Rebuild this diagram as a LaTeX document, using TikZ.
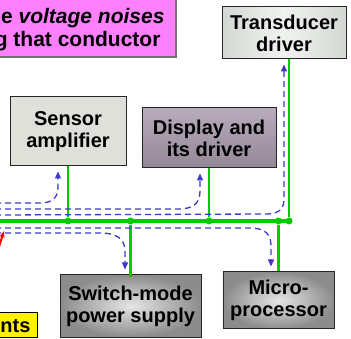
\documentclass[tikz,border=0pt]{standalone}
\usepackage{fontspec}
\setmainfont{Liberation Sans}
\usetikzlibrary{arrows.meta}

\definecolor{busgreen}{RGB}{0,204,0}
\definecolor{noiseblue}{RGB}{58,58,204}
\definecolor{notepink}{RGB}{255,128,255}
\definecolor{sensorfill}{RGB}{224,224,218}
\definecolor{displaytop}{RGB}{184,172,188}
\definecolor{displaybot}{RGB}{148,136,152}
\definecolor{transmid}{RGB}{240,242,240}
\definecolor{transside}{RGB}{212,216,212}

\begin{document}
\begin{tikzpicture}[x=1pt, y=-1pt,
  block/.style={draw=black!85, line width=1pt, align=center, inner sep=0pt,
    font=\bfseries\fontsize{20}{22}\selectfont},
  metal/.style={block, shading=radial, inner color=black!10, outer color=black!45},
  bus/.style={busgreen, line width=4pt},
  tap/.style={busgreen, line width=2.2pt},
  joint/.style={circle, fill=busgreen, inner sep=0pt, minimum size=7pt},
  noise/.style={noiseblue, line width=1.3pt, dash pattern=on 6pt off 4pt,
    shorten >=5pt, -{Triangle[length=7pt,width=6pt]}}]

\useasboundingbox (0,0) rectangle (351,339);
\clip (0,0) rectangle (351,339);

% Note boxes (cut by the frame)
\node[draw=black!55, line width=1.5pt, fill=notepink, minimum width=190pt, minimum height=70pt] (note) at (81,22) {};
\node[anchor=base east, font=\bfseries\fontsize{21}{21}\selectfont] (noteB) at (168,24) {e \textit{voltage noises}};
\node[anchor=base east, font=\bfseries\fontsize{21}{21}\selectfont] (noteC) at (164,47) {g that conductor};
\node[draw=black, line width=1pt, fill=yellow, minimum width=50pt, minimum height=25pt] (part) at (12,325) {};
\node[anchor=base east, font=\bfseries\fontsize{20}{20}\selectfont] (partText) at (34,332) {ents};

% Blocks
\node[block, fill=sensorfill, minimum width=116pt, minimum height=69pt] (sensor) at (68,131.5) {Sensor\\amplifier};
\node[block, top color=displaytop, bottom color=displaybot, minimum width=134pt, minimum height=60pt] (display) at (209,138) {Display and\\its driver};
\node[block, left color=transside, right color=transside, middle color=transmid, minimum width=124pt, minimum height=52pt] (trans) at (284,33) {Transducer\\driver};
\node[metal, minimum width=141pt, minimum height=62pt] (switch) at (130.5,306) {Switch-mode\\power supply};
\node[metal, minimum width=111pt, minimum height=57pt] (micro) at (278.5,300.5) {Micro-\\processor};

% Bus
\coordinate (busL) at (-5,221);
\coordinate (busR) at (289,221);
\draw[bus] (busL) -- (busR);
\node[joint] (jSensor) at (sensor.south |- busL) {};
\node[joint] (jDisplay) at (display.south |- busL) {};
\node[joint] (jSwitch) at (switch.north |- busL) {};
\node[joint] (jMicro) at (micro.north |- busL) {};
\node[joint] (jTrans) at (busR) {};
\draw[tap] (sensor.south) -- (jSensor);
\draw[tap] (display.south) -- (jDisplay);
\draw[tap] (jSwitch) -- ([yshift=-3pt]switch.north);
\draw[tap] (jMicro) -- (micro.north);
\draw[tap] (jTrans) -- (jTrans |- trans.south);

% Noise paths
\coordinate (inA) at (-5,203);
\coordinate (inB) at (-5,209);
\coordinate (inC) at (-5,215);
\coordinate (inD) at (-5,228);
\coordinate (inE) at (-5,233);
\coordinate (tipSensor) at ([xshift=-10pt]sensor.south);
\coordinate (tipDisplay) at ([xshift=-9pt]display.south);
\coordinate (tipTrans) at (trans.south);
\coordinate (tipMicro) at ([xshift=-7.5pt]micro.north);
\coordinate (tipSwitch) at ([xshift=-5.5pt]switch.north);
\draw[noise] (inA) -- (40,203) .. controls (53,203) and (58,197) .. (58,187) -- (tipSensor);
\draw[noise] (inB) -- (178,209) .. controls (194,209) and (200,203) .. (200,191) -- (tipDisplay);
\draw[noise] (inC) -- (268,214) .. controls (281,213) and (284,208) .. (284,198) -- (tipTrans);
\draw[noise] (inD) -- (250,228) .. controls (265,228) and (271,234) .. (271,246) -- (tipMicro);
\draw[noise] (inE) -- (100,233) .. controls (118,233) and (125,240) .. (125,251) -- (tipSwitch);

% Red arrow (cut by the frame)
\coordinate (redTail) at (-6,262);
\coordinate (redTip) at (4,231);
\draw[red, line width=2pt, -{Stealth[length=7pt]}] (redTail) -- (redTip);

\end{tikzpicture}
\end{document}
